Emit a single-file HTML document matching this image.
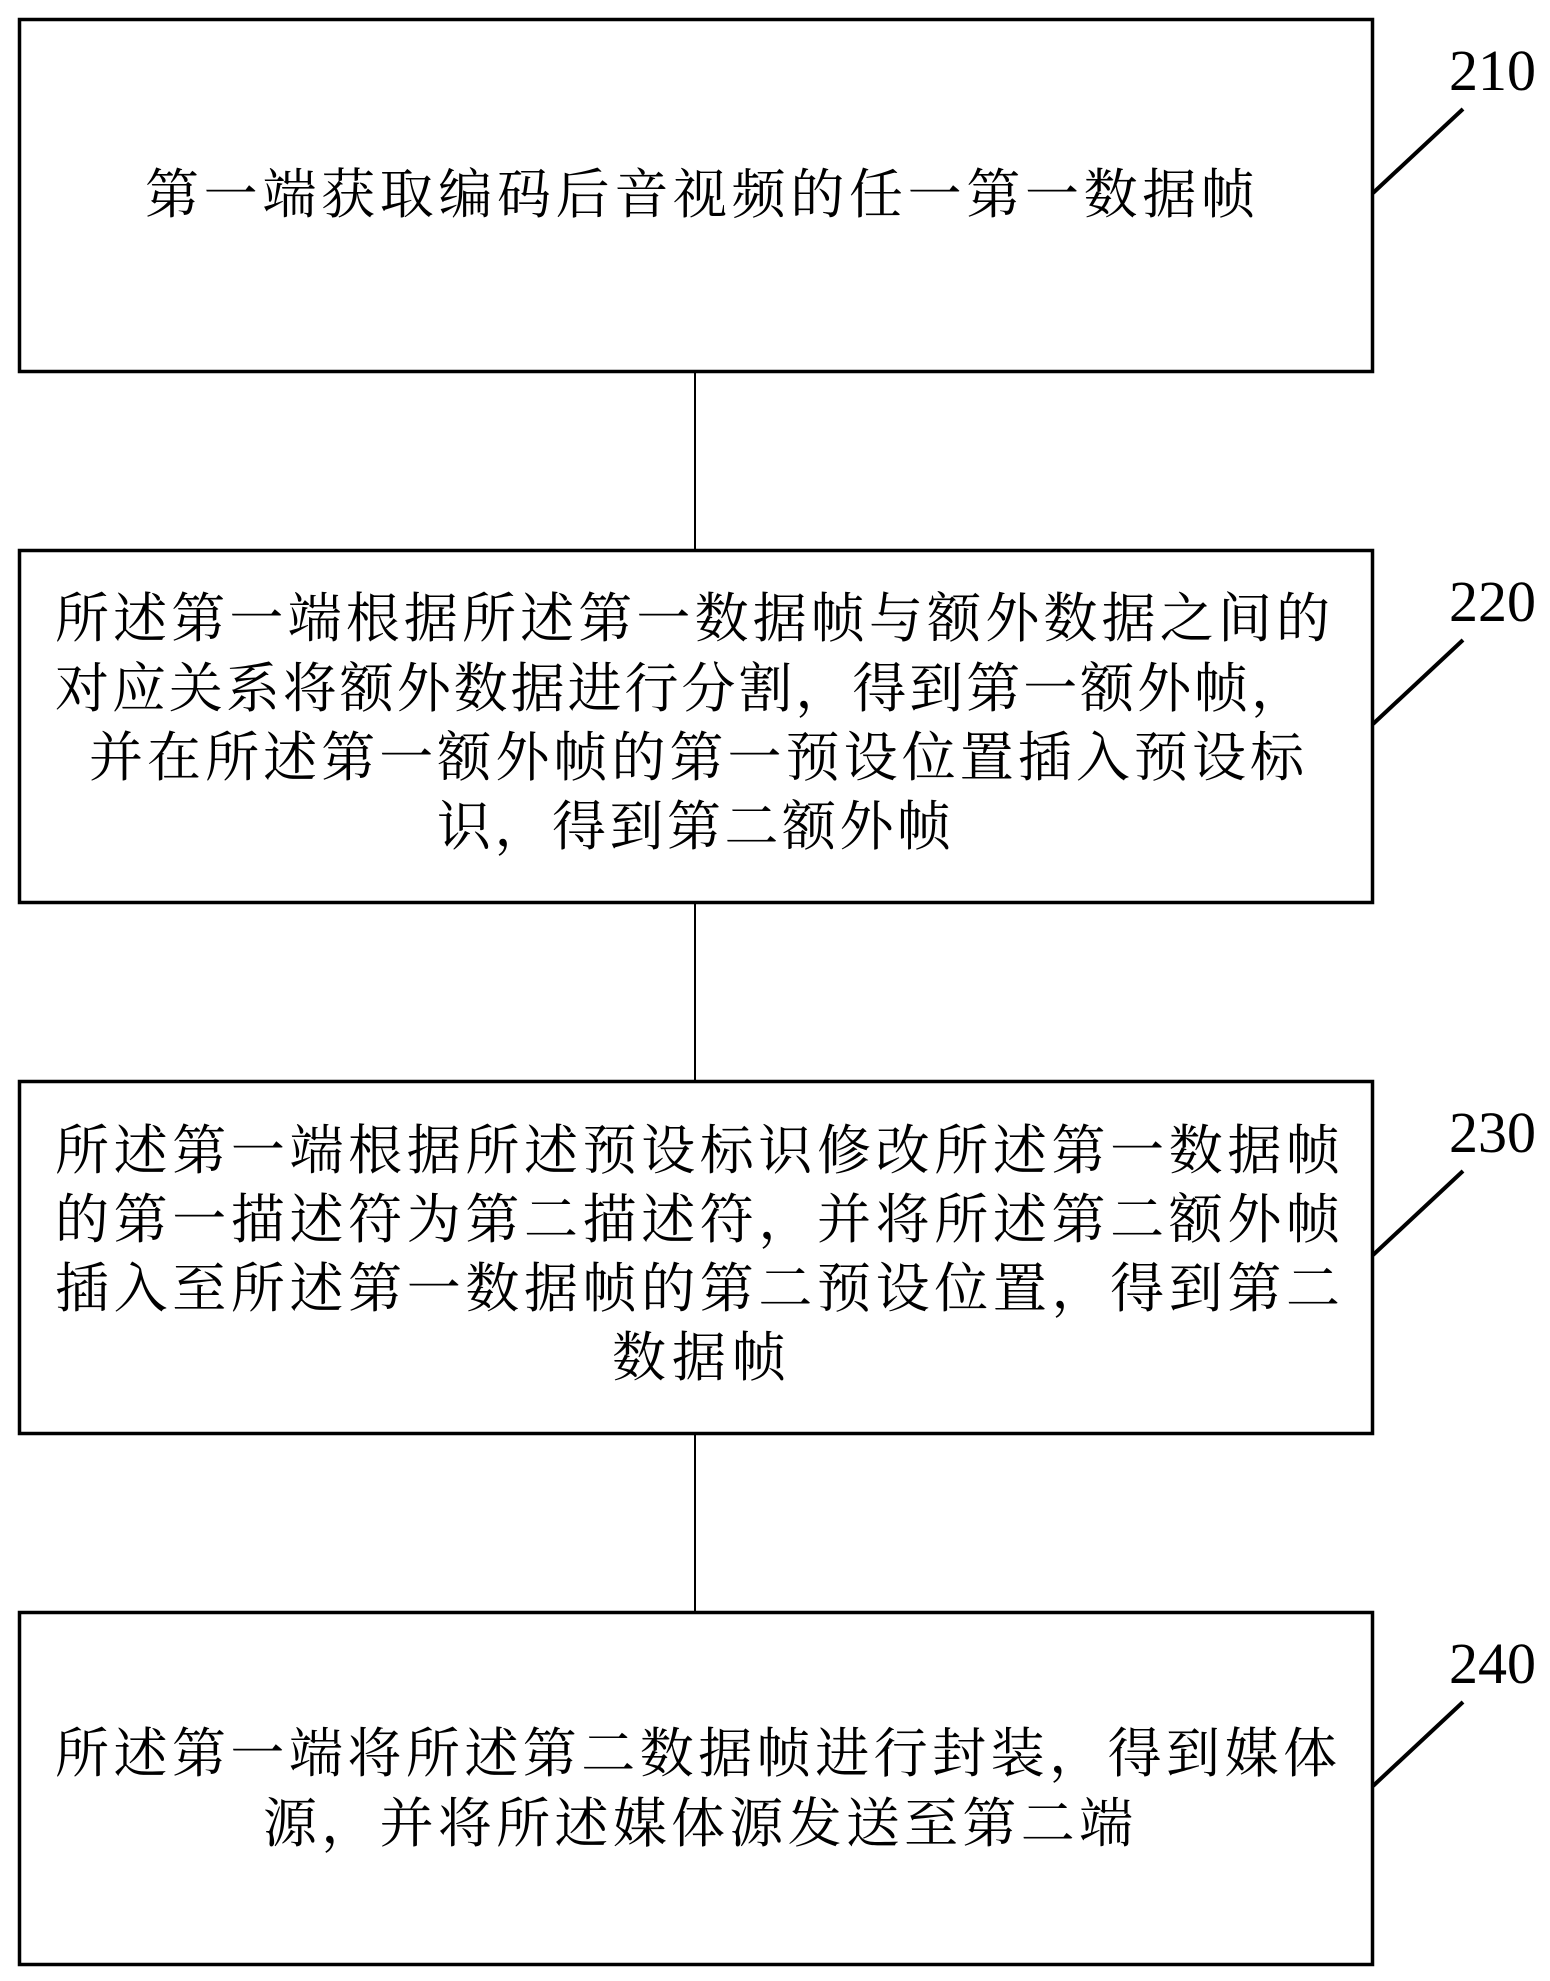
<!DOCTYPE html>
<html><head><meta charset="utf-8"><style>html,body{margin:0;padding:0;background:#fff;}svg{display:block}</style></head>
<body>
<svg width="1550" height="1981" viewBox="0 0 1550 1981" xmlns="http://www.w3.org/2000/svg">
<g fill="none" stroke="#000">
<rect x="19.5" y="19.5" width="1353" height="352" stroke-width="3.5"/>
<rect x="19.5" y="550.5" width="1353" height="352" stroke-width="3.5"/>
<rect x="19.5" y="1081.5" width="1353" height="352" stroke-width="3.5"/>
<rect x="19.5" y="1612.5" width="1353" height="352" stroke-width="3.5"/>
<line x1="695" y1="372" x2="695" y2="550" stroke-width="2"/>
<line x1="695" y1="903" x2="695" y2="1081" stroke-width="2"/>
<line x1="695" y1="1434" x2="695" y2="1612" stroke-width="2"/>
<line x1="1373" y1="193" x2="1463" y2="109" stroke-width="4"/>
<line x1="1373" y1="724" x2="1463" y2="640" stroke-width="4"/>
<line x1="1373" y1="1255" x2="1463" y2="1171" stroke-width="4"/>
<line x1="1373" y1="1786" x2="1463" y2="1702" stroke-width="4"/>
</g>
<g font-family="'Liberation Serif', serif" font-size="58" fill="#000">
<text x="1449" y="90">210</text>
<text x="1449" y="621">220</text>
<text x="1449" y="1152">230</text>
<text x="1449" y="1683">240</text>
</g>
<g font-family="'Liberation Serif','Noto Serif CJK SC', serif" font-size="54" fill="#000" lengthAdjust="spacing">
<text x="145" y="213" textLength="1110" lengthAdjust="spacing">第一端获取编码后音视频的任一第一数据帧</text>
<text x="55" y="637" textLength="1275" lengthAdjust="spacing">所述第一端根据所述第一数据帧与额外数据之间的</text>
<text x="55" y="707" textLength="1250" lengthAdjust="spacing">对应关系将额外数据进行分割，得到第一额外帧，</text>
<text x="89" y="776" textLength="1215" lengthAdjust="spacing">并在所述第一额外帧的第一预设位置插入预设标</text>
<text x="437" y="845" textLength="514" lengthAdjust="spacing">识，得到第二额外帧</text>
<text x="55" y="1169" textLength="1285" lengthAdjust="spacing">所述第一端根据所述预设标识修改所述第一数据帧</text>
<text x="55" y="1238" textLength="1285" lengthAdjust="spacing">的第一描述符为第二描述符，并将所述第二额外帧</text>
<text x="55" y="1307" textLength="1285" lengthAdjust="spacing">插入至所述第一数据帧的第二预设位置，得到第二</text>
<text x="612" y="1376" textLength="174" lengthAdjust="spacing">数据帧</text>
<text x="55" y="1772" textLength="1282" lengthAdjust="spacing">所述第一端将所述第二数据帧进行封装，得到媒体</text>
<text x="263" y="1842" textLength="870" lengthAdjust="spacing">源，并将所述媒体源发送至第二端</text>
</g>
</svg>
</body></html>
